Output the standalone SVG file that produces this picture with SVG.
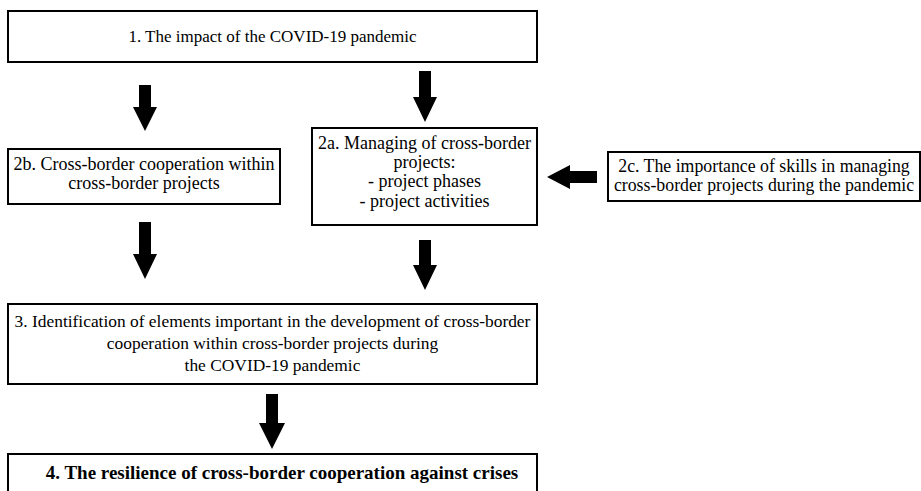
<svg xmlns="http://www.w3.org/2000/svg" width="921" height="491" viewBox="0 0 921 491">
<style>
.box{fill:#fff;stroke:#000;stroke-width:2}
.t{font-family:"Liberation Serif","DejaVu Serif",serif;font-size:18px;fill:#000;text-anchor:middle}
.b{font-weight:bold}
.arr{fill:#000}
</style>
<rect width="921" height="491" fill="#fff"/>
<g id="node1">
<rect class="box" x="8" y="11" width="529" height="51"/>
<text class="t" x="272.5" y="42" style="font-size:17px">1. The impact of the COVID-19 pandemic</text>
</g>
<g id="node2b">
<rect class="box" x="8" y="149" width="272" height="55"/>
<text class="t" x="144" y="170">2b. Cross-border cooperation within</text>
<text class="t" x="144" y="189">cross-border projects</text>
</g>
<g id="node2a">
<rect class="box" x="312" y="128" width="225" height="97"/>
<text class="t" x="424.5" y="149">2a. Managing of cross-border</text>
<text class="t" x="424.5" y="168">projects:</text>
<text class="t" x="424.5" y="187">- project phases</text>
<text class="t" x="424.5" y="207">- project activities</text>
</g>
<g id="node2c">
<rect class="box" x="608" y="152" width="312" height="49"/>
<text class="t" x="764" y="172" style="font-size:17.8px">2c. The importance of skills in managing</text>
<text class="t" x="764" y="191" style="font-size:17.8px">cross-border projects during the pandemic</text>
</g>
<g id="node3">
<rect class="box" x="8" y="304" width="529" height="80"/>
<text class="t" x="272.5" y="327" style="font-size:17.4px">3. Identification of elements important in the development of cross-border</text>
<text class="t" x="272.5" y="349" style="font-size:17.4px">cooperation within cross-border projects during</text>
<text class="t" x="272.5" y="371" style="font-size:17.4px">the COVID-19 pandemic</text>
</g>
<g id="node4">
<rect class="box" x="8" y="454" width="529" height="50"/>
<text class="t b" x="282" y="479" style="font-size:19px">4. The resilience of cross-border cooperation against crises</text>
</g>
<g id="connectors">
<path class="arr" d="M139 85H151V107H157L145 131L133 107H139Z"/>
<path class="arr" d="M419 71H431V97H437L425 122L413 97H419Z"/>
<path class="arr" d="M139 222H151V254H157L145 279L133 254H139Z"/>
<path class="arr" d="M419 240H431V265H437L425 290L413 265H419Z"/>
<path class="arr" d="M266 394H278V423H285L272 449L259 423H266Z"/>
<path class="arr" d="M597 171V183H570V189L547 177L570 165V171Z"/>
</g>
</svg>
